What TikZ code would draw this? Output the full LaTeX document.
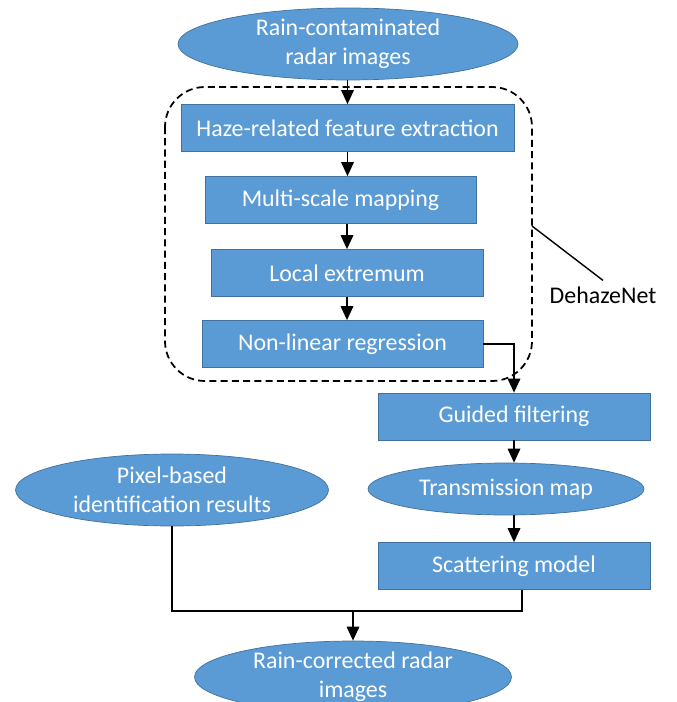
\documentclass[tikz,border=0pt]{standalone}
\usepackage{fontspec}
\setmainfont{Carlito}
\usepackage{xcolor}
\usepackage{tikz}
\usetikzlibrary{arrows.meta}
\usetikzlibrary{shapes.geometric, calc}
\definecolor{boxblue}{RGB}{91,155,213}
\definecolor{edgeblue}{RGB}{65,113,156}

\tikzset{
  blockbox/.style={draw=edgeblue, fill=boxblue, text=white, minimum height=0.94cm, inner sep=0pt},
  roundbox/.style={ellipse, draw=edgeblue, fill=boxblue, text=white, align=center, inner sep=0pt},
  flow/.style={line width=1pt, -{Triangle[length=0.28cm, width=0.25cm]}}
}

\begin{document}
\begin{tikzpicture}[x=0.02cm, y=-0.02cm, font=\fontsize{13.6}{16.5}\selectfont]
                \useasboundingbox (0,0) rectangle (676,702);
                % DehazeNet frame
                \draw[line width=1pt, dash pattern=on 4pt off 2.4pt, rounded corners=0.8cm] (165,87) rectangle (532,381);
                \coordinate (tag) at (532,226);
                \node (dnet) at (603,295) {DehazeNet};
                \draw[line width=0.8pt] (tag) -- (dnet.north);
                % main chain
                \node[roundbox, minimum width=6.8cm, minimum height=1.44cm] (rain) at (348,44) {Rain-contaminated\\radar images};
                \node[blockbox, minimum width=6.66cm] (haze) at (347.5,128) {Haze-related feature extraction};
                \node[blockbox, minimum width=5.42cm] (multi) at (340.5,200) {Multi-scale mapping};
                \node[blockbox, minimum width=5.44cm] (local) at (347,273) {Local extremum};
                \node[blockbox, minimum width=5.62cm] (nonlin) at (342.5,344) {Non-linear regression};
                \node[blockbox, minimum width=5.44cm] (guided) at (514,416.5) {Guided filtering};
                \node[roundbox, minimum width=5.52cm, minimum height=1.04cm] (trans) at (506,489) {Transmission map};
                \node[blockbox, minimum width=5.44cm] (scat) at (514,566) {Scattering model};
                \node[roundbox, minimum width=6.26cm, minimum height=1.44cm] (pixel) at (172,490) {Pixel-based\\identification results};
                \node[roundbox, minimum width=6.34cm, minimum height=1.44cm] (out) at (353,677) {Rain-corrected radar\\images};
                % arrows
                \draw[flow] (rain.south -| haze) -- (haze.north);
                \draw[flow] (haze.south) -- (haze.south |- multi.north);
                \draw[flow] (local.north |- multi.south) -- (local.north);
                \draw[flow] (local.south) -- (local.south |- nonlin.north);
                \draw[flow] (nonlin.east) -| (guided.north);
                \draw[flow] (guided.south) -- (guided.south |- trans.north);
                \draw[flow] (trans.south -| scat.north) -- (scat.north);
                % merge
                \coordinate (join) at (353,611);
                \draw[line width=1pt] (pixel.south) |- (join);
                \draw[line width=1pt] ([xshift=0.16cm]scat.south) |- (join);
                \draw[flow] (join) -- (out.north);
            \end{tikzpicture}
\end{document}
